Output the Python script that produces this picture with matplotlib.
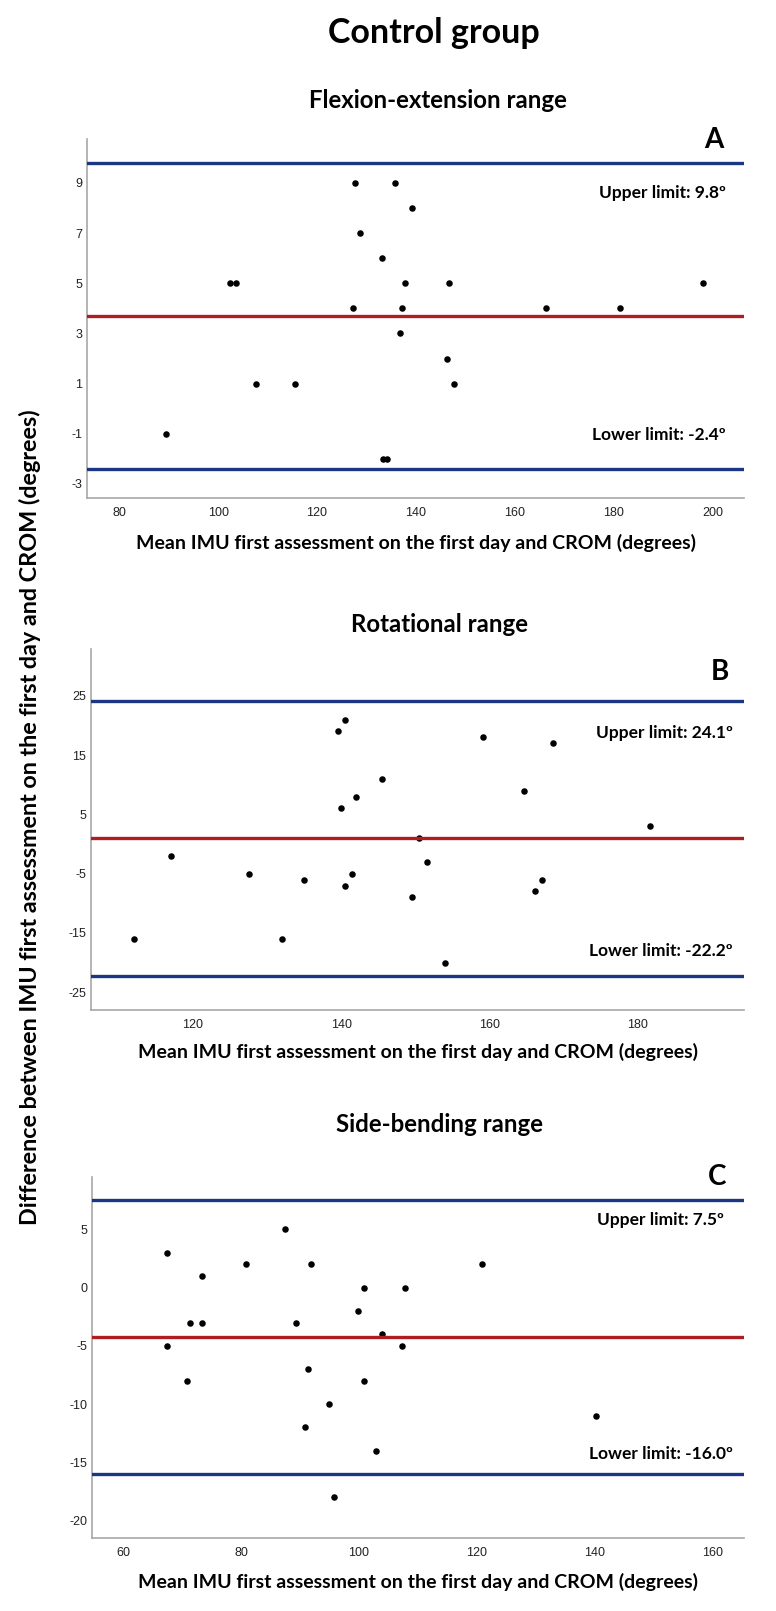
import matplotlib
matplotlib.use('Agg')
import matplotlib.pyplot as plt

plt.rcParams['font.family'] = ['Liberation Sans', 'DejaVu Sans']
plt.rcParams['axes.unicode_minus'] = False

W, H = 776, 1611

# ---------------- data ----------------
fe_mean = [89.5, 102.5, 103.7, 107.6, 115.6, 127.2, 127.6, 128.7, 133.1, 133.3, 134.2,
           135.7, 136.7, 137.1, 137.7, 139.2, 146.2, 146.7, 147.7, 166.3, 181.2, 198.0]
fe_diff = [-1, 5, 5, 1, 1, 4, 9, 7, 6, -2, -2,
           9, 3, 4, 5, 8, 2, 5, 1, 4, 4, 5]
fe_upper, fe_lower, fe_bias = 9.8, -2.4, 3.7
fe_xticks = [80, 100, 120, 140, 160, 180, 200]
fe_yticks = [-3, -1, 1, 3, 5, 7, 9]

rot_mean = [112.0, 117.0, 127.5, 132.0, 135.0, 139.5, 140.0, 140.5, 140.5, 141.5, 142.0,
            145.5, 149.5, 150.5, 151.5, 154.0, 159.1, 164.6, 166.1, 167.1, 168.6, 181.6]
rot_diff = [-16, -2, -5, -16, -6, 19, 6, 21, -7, -5, 8,
            11, -9, 1, -3, -20, 18, 9, -8, -6, 17, 3]
rot_upper, rot_lower, rot_bias = 24.1, -22.2, 0.95
rot_xticks = [120, 140, 160, 180]
rot_yticks = [-25, -15, -5, 5, 15, 25]

sb_mean = [67.4, 67.4, 70.9, 71.4, 73.4, 73.4, 80.9, 87.4, 89.4, 90.9, 91.4, 91.9,
           94.9, 95.8, 99.8, 100.9, 100.9, 102.9, 103.9, 107.4, 107.8, 120.9, 140.3]
sb_diff = [3, -5, -8, -3, -3, 1, 2, 5, -3, -12, -7, 2,
           -10, -18, -2, 0, -8, -14, -4, -5, 0, 2, -11]
sb_upper, sb_lower, sb_bias = 7.5, -16.0, -4.25
sb_xticks = [60, 80, 100, 120, 140, 160]
sb_yticks = [-20, -15, -10, -5, 0, 5]

main_title = 'Control group'
panel_titles = ['Flexion-extension range', 'Rotational range', 'Side-bending range']
panel_letters = ['A', 'B', 'C']
x_label = 'Mean IMU first assessment on the first day and CROM (degrees)'
y_label = 'Difference between IMU first assessment on the first day and CROM (degrees)'

# ---------------- style ----------------
BOLD = ['Lato', 'DejaVu Sans']
BLUE = '#1b3683'
RED = '#ad1d22'
SPINE = '#a8a8a8'

fig = plt.figure(figsize=(W / 100, H / 100), dpi=100)


def fx(px):
    return px / W


def fy(py):
    return 1 - py / H


panels = [
    dict(mean=fe_mean, diff=fe_diff, upper=fe_upper, lower=fe_lower, bias=fe_bias,
         xticks=fe_xticks, yticks=fe_yticks, xlim=(73.5, 206.3), ylim=(-3.56, 10.75),
         box=(87, 139, 744, 498), title_y=100, letter_xy=(714, 140),
         up_off=(-18, -30), lo_off=(-18, 34), xlab_y=543),
    dict(mean=rot_mean, diff=rot_diff, upper=rot_upper, lower=rot_lower, bias=rot_bias,
         xticks=rot_xticks, yticks=rot_yticks, xlim=(106.25, 194.3), ylim=(-28.0, 32.9),
         box=(91, 649, 744, 1010), title_y=625, letter_xy=(720, 672),
         up_off=(-11, -32), lo_off=(-11, 25), xlab_y=1052),
    dict(mean=sb_mean, diff=sb_diff, upper=sb_upper, lower=sb_lower, bias=sb_bias,
         xticks=sb_xticks, yticks=sb_yticks, xlim=(54.7, 165.4), ylim=(-21.5, 9.5),
         box=(92, 1177, 744, 1538), title_y=1125, letter_xy=(717, 1177),
         up_off=(-20, -20), lo_off=(-11, 20), xlab_y=1582),
]

fig.text(fx(434), fy(33), main_title, ha='center', va='center',
         fontsize=24.5, fontweight='bold', family=BOLD)

for p, ttl, let in zip(panels, panel_titles, panel_letters):
    l, t, r, b = p['box']
    ax = fig.add_axes([fx(l), fy(b), (r - l) / W, (b - t) / H])
    ax.scatter(p['mean'], p['diff'], s=22, color='black', linewidths=0, zorder=2)
    ax.axhline(p['upper'], color=BLUE, lw=2.4, zorder=3)
    ax.axhline(p['lower'], color=BLUE, lw=2.4, zorder=3)
    ax.axhline(p['bias'], color=RED, lw=2.4, zorder=3)
    ax.set_xlim(*p['xlim'])
    ax.set_ylim(*p['ylim'])
    ax.set_xticks(p['xticks'])
    ax.set_yticks(p['yticks'])
    for s in ['top', 'right']:
        ax.spines[s].set_visible(False)
    for s in ['left', 'bottom']:
        ax.spines[s].set_color(SPINE)
        ax.spines[s].set_linewidth(1.2)
    ax.tick_params(length=0, labelsize=9, colors='#222222')
    ax.tick_params(axis='x', pad=6.5)
    ax.tick_params(axis='y', pad=3.5)

    ax.set_xlabel(x_label, fontsize=14, fontweight='bold', family=BOLD)
    ax.xaxis.label.set_va('center')
    ax.xaxis.set_label_coords(0.5, -(p['xlab_y'] - b) / (b - t))

    ax.annotate(f"Upper limit: {p['upper']:.1f}º", xy=(1, p['upper']),
                xycoords=('axes fraction', 'data'),
                xytext=(p['up_off'][0] * 0.72, p['up_off'][1] * 0.72),
                textcoords='offset points', ha='right', va='center',
                fontsize=12.5, fontweight='bold', family=BOLD)
    ax.annotate(f"Lower limit: {p['lower']:.1f}º", xy=(1, p['lower']),
                xycoords=('axes fraction', 'data'),
                xytext=(p['lo_off'][0] * 0.72, p['lo_off'][1] * 0.72),
                textcoords='offset points', ha='right', va='center',
                fontsize=12.5, fontweight='bold', family=BOLD)

    fig.text(fx((l + r) / 2 + 22), fy(p['title_y']), ttl, ha='center', va='center',
             fontsize=17.3, fontweight='bold', family=BOLD)
    fig.text(fx(p['letter_xy'][0]), fy(p['letter_xy'][1]), let, ha='center', va='center',
             fontsize=20, fontweight='bold', family=BOLD)

fig.text(fx(30), fy(817), y_label, rotation=90, ha='center', va='center',
         fontsize=16.8, fontweight='bold', family=BOLD)

fig.savefig('out.png', dpi=100)
